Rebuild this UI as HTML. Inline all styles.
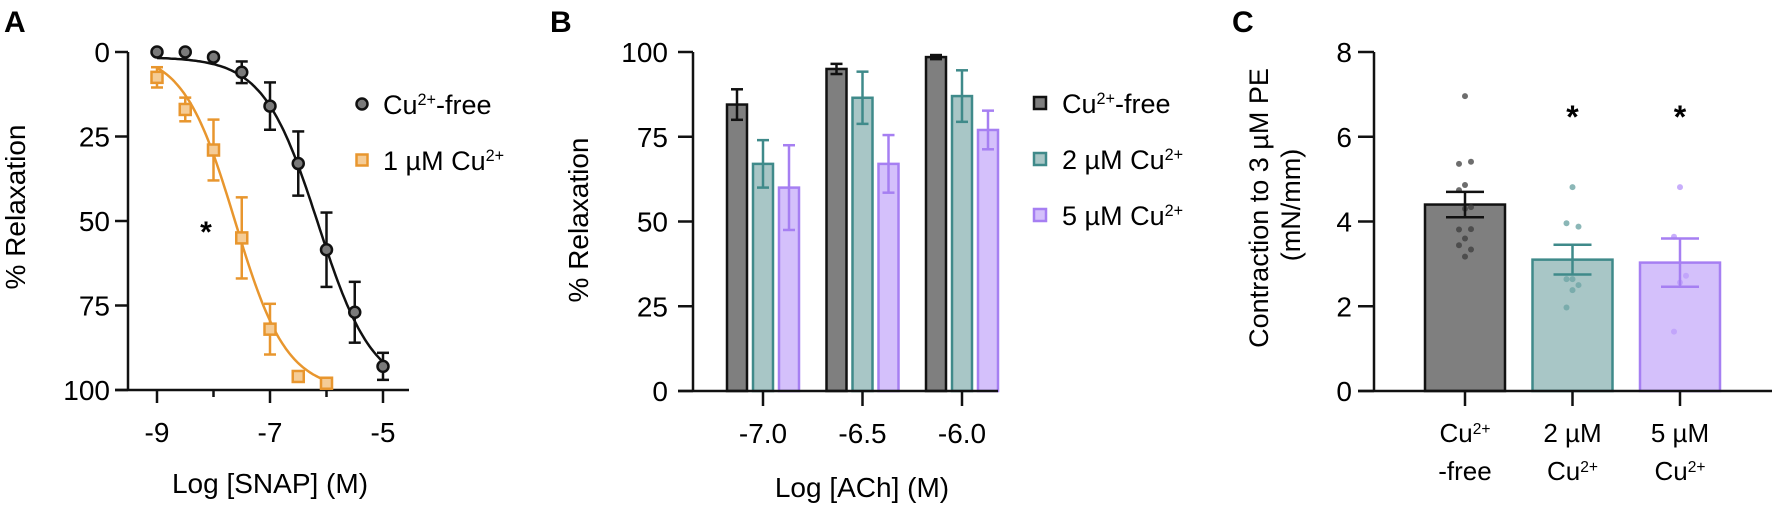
<!DOCTYPE html>
<html><head><meta charset="utf-8"><style>
html,body{margin:0;padding:0;background:#fff}
svg{display:block;font-family:"Liberation Sans",Arial,sans-serif}
</style></head><body>
<svg id="fig" width="1772" height="506" viewBox="0 0 1772 506"></svg>
<script>
// ---------- Panel A data ----------
const aX = [-9,-8.5,-8,-7.5,-7,-6.5,-6,-5.5,-5];
const aFreeY = [0,0,1.5,6,16,33,58.5,77,93];
const aFreeErr = [0,0,0,3.2,7,9.5,11,9,4];
const aCuX = [-9,-8.5,-8,-7.5,-7,-6.5,-6];
const aCuY = [7.5,17,29,55,82,96,98];
const aCuErr = [3,3.5,9,12,7.5,0,0];
const aFreeFit = [1.5,100,-6.15,0.9]; // bottom, top, logIC50, hill
const aCuFit = [0,100,-7.62,0.95];
const aXTicks = [-9,-7,-5];
const aYTicks = [0,25,50,75,100];
// ---------- Panel B data ----------
const bCats = ["-7.0","-6.5","-6.0"];
const bFree = [84.5,95,98.5];
const bFreeErr = [4.5,1.5,0.6];
const bCu2 = [67,86.5,87];
const bCu2Err = [7,7.7,7.6];
const bCu5 = [60,67,77];
const bCu5Err = [12.5,8.5,5.7];
const bYTicks = [0,25,50,75,100];
// ---------- Panel C data ----------
const cCats = [["Cu2+","-free"],["2 µM","Cu2+"],["5 µM","Cu2+"]];
const cMeans = [4.4,3.1,3.03];
const cErr = [0.3,0.35,0.57];
const cPtsFree = [6.96,5.36,5.41,4.86,4.74,4.34,4.3,3.81,3.82,3.6,3.44,3.34,3.17];
const cPtsCu2 = [4.81,3.96,3.88,2.64,2.64,2.5,2.38,1.97];
const cPtsCu5 = [4.81,3.64,2.72,2.56,1.4];
const cYTicks = [0,2,4,6,8];

const NS="http://www.w3.org/2000/svg";
const svg=document.getElementById('fig');
function el(tag,attrs,parent){const e=document.createElementNS(NS,tag);for(const k in attrs)e.setAttribute(k,attrs[k]);(parent||svg).appendChild(e);return e;}
function supText(str,x,y,size,anchor,parent){
  const t=el('text',{x:x,y:y,'font-size':size,'text-anchor':anchor||'start',fill:'#000'},parent);
  const parts=str.split(/(2\+)/);
  parts.forEach(p=>{if(!p)return;const s=el('tspan',{},t);if(p==='2+'){s.setAttribute('baseline-shift','super');s.setAttribute('font-size',size*0.6);s.textContent='2+';}else s.textContent=p;});
  return t;
}
const BLK='#111';
// ================= PANEL A =================
const gA=el('g',{});


const axA={x0:157,x1:383,v0:-9,v1:-5,yTop:52,yBot:390};
const ax=v=>axA.x0+(v-axA.v0)/(axA.v1-axA.v0)*(axA.x1-axA.x0);
const ay=v=>axA.yTop+v/100*(axA.yBot-axA.yTop);
let t=el('text',{x:4,y:32,'font-size':30,'font-weight':'bold'},gA);t.textContent='A';

el('line',{x1:128,y1:axA.yTop,x2:128,y2:axA.yBot+1,stroke:BLK,'stroke-width':2.5},gA);
el('line',{x1:115,y1:axA.yBot,x2:409,y2:axA.yBot,stroke:BLK,'stroke-width':2.5},gA);
aYTicks.forEach(v=>{el('line',{x1:115,y1:ay(v),x2:128,y2:ay(v),stroke:BLK,'stroke-width':2.5},gA);
  const tt=el('text',{x:110,y:ay(v)+10,'font-size':28,'text-anchor':'end'},gA);tt.textContent=v;
  });
aXTicks.forEach(v=>{el('line',{x1:ax(v),y1:axA.yBot,x2:ax(v),y2:axA.yBot+13,stroke:BLK,'stroke-width':2.5},gA);
  const tt=el('text',{x:ax(v),y:442,'font-size':28,'text-anchor':'middle'},gA);tt.textContent=v;
  });
for(let v=-8;v<=-6;v+=2){el('line',{x1:ax(v),y1:axA.yBot,x2:ax(v),y2:axA.yBot+7,stroke:BLK,'stroke-width':2.5},gA);}
t=el('text',{x:0,y:0,'font-size':28,'text-anchor':'middle',transform:'translate(25,207) rotate(-90)'},gA);t.textContent='% Relaxation';

t=el('text',{x:270,y:493,'font-size':28,'text-anchor':'middle'},gA);t.textContent='Log [SNAP] (M)';

function fitPath(p,xa,xb){let d='';for(let i=0;i<=100;i++){const x=xa+(xb-xa)*i/100;const y=p[0]+(p[1]-p[0])/(1+Math.pow(10,p[3]*(p[2]-x)));d+=(i?'L':'M')+ax(x).toFixed(1)+','+ay(y).toFixed(1);}return d;}
const cf=el('path',{d:fitPath(aFreeFit,-9,-5),fill:'none',stroke:BLK,'stroke-width':2.5},gA);

const cc=el('path',{d:fitPath(aCuFit,-9,-6),fill:'none',stroke:'#e8962e','stroke-width':2.5},gA);

function errBar(g,x,y1,y2,w,col,sw){el('line',{x1:x,y1:y1,x2:x,y2:y2,stroke:col,'stroke-width':sw||2.5},g);el('line',{x1:x-w,y1:y1,x2:x+w,y2:y1,stroke:col,'stroke-width':sw||2.5},g);el('line',{x1:x-w,y1:y2,x2:x+w,y2:y2,stroke:col,'stroke-width':sw||2.5},g);}
aCuX.forEach((x,i)=>{
  if(aCuErr[i]>0)errBar(gA,ax(x),ay(aCuY[i]-aCuErr[i]),ay(aCuY[i]+aCuErr[i]),6,'#e8962e');
  const r=el('rect',{x:ax(x)-5.5,y:ay(aCuY[i])-5.5,width:11,height:11,fill:'#f5cc96',stroke:'#e8962e','stroke-width':2.5},gA);
  });
aX.forEach((x,i)=>{
  if(aFreeErr[i]>0)errBar(gA,ax(x),ay(aFreeY[i]-aFreeErr[i]),ay(aFreeY[i]+aFreeErr[i]),6,BLK);
  const c=el('circle',{cx:ax(x),cy:ay(aFreeY[i]),r:5.5,fill:'#7a7a7a',stroke:BLK,'stroke-width':2.5},gA);
  });
t=el('text',{x:206,y:242,'font-size':30,'font-weight':'bold','text-anchor':'middle'},gA);t.textContent='*';

el('circle',{cx:362,cy:104,r:5.5,fill:'#7a7a7a',stroke:BLK,'stroke-width':2.5},gA);
supText('Cu2+-free',383,114,27,'start',gA);
el('rect',{x:356.5,y:154.5,width:11,height:11,fill:'#f5cc96',stroke:'#e8962e','stroke-width':2.5},gA);
supText('1 µM Cu2+',383,170,27,'start',gA);

// ================= PANEL B =================
const gB=el('g',{});


const byT=52,byB=391;
const by=v=>byB-v/100*(byB-byT);
const bx=i=>763+i*99.5;
t=el('text',{x:550,y:32,'font-size':30,'font-weight':'bold'},gB);t.textContent='B';

el('line',{x1:693,y1:byT,x2:693,y2:byB,stroke:BLK,'stroke-width':2.5},gB);
bYTicks.forEach(v=>{el('line',{x1:678,y1:by(v),x2:693,y2:by(v),stroke:BLK,'stroke-width':2.5},gB);
  const tt=el('text',{x:668,y:by(v)+10,'font-size':28,'text-anchor':'end'},gB);tt.textContent=v;
  });
t=el('text',{x:0,y:0,'font-size':28,'text-anchor':'middle',transform:'translate(588,220) rotate(-90)'},gB);t.textContent='% Relaxation';

const bSeries=[[bFree,bFreeErr,'#7f7f7f',BLK,-26,'cu-free'],[bCu2,bCu2Err,'#a8c6c6','#3f8a8a',0,'cu-2um'],[bCu5,bCu5Err,'#d4c0fb','#a67ff2',26,'cu-5um']];
bSeries.forEach(s=>{
  s[0].forEach((v,i)=>{
    const cx=bx(i)+s[4];
    const r=el('rect',{x:cx-10,y:by(v),width:20,height:byB-by(v),fill:s[2],stroke:s[3],'stroke-width':2.5},gB);
    
    errBar(gB,cx,by(v+s[1][i]),by(v-s[1][i]),6,s[3]);
  });});
el('line',{x1:678,y1:byB,x2:998,y2:byB,stroke:BLK,'stroke-width':2.5},gB);
bCats.forEach((c,i)=>{el('line',{x1:bx(i),y1:byB,x2:bx(i),y2:byB+15,stroke:BLK,'stroke-width':2.5},gB);
  const tt=el('text',{x:bx(i),y:443,'font-size':28,'text-anchor':'middle'},gB);tt.textContent=c;
  });
t=el('text',{x:862,y:497,'font-size':28,'text-anchor':'middle'},gB);t.textContent='Log [ACh] (M)';

const legB=[['Cu2+-free','#7f7f7f',BLK,103],['2 µM Cu2+','#a8c6c6','#3f8a8a',159],['5 µM Cu2+','#d4c0fb','#a67ff2',215]];
legB.forEach(l=>{el('rect',{x:1034,y:l[3]-6,width:12,height:12,fill:l[1],stroke:l[2],'stroke-width':2.5},gB);
  supText(l[0],1062,l[3]+10,27,'start',gB);});

// ================= PANEL C =================
const gC=el('g',{});


const cyT=52,cyB=391;
const cy=v=>cyB-v/8*(cyB-cyT);
const cxp=i=>1465+i*107.5;
t=el('text',{x:1232,y:32,'font-size':30,'font-weight':'bold'},gC);t.textContent='C';

el('line',{x1:1374,y1:cyT,x2:1374,y2:cyB,stroke:BLK,'stroke-width':2.5},gC);
cYTicks.forEach(v=>{el('line',{x1:1358,y1:cy(v),x2:1374,y2:cy(v),stroke:BLK,'stroke-width':2.5},gC);
  const tt=el('text',{x:1352,y:cy(v)+10,'font-size':28,'text-anchor':'end'},gC);tt.textContent=v;
  });
t=el('text',{x:0,y:0,'font-size':27,'text-anchor':'middle',transform:'translate(1268,208) rotate(-90)'},gC);t.textContent='Contraction to 3 µM PE';

t=el('text',{x:0,y:0,'font-size':27,'text-anchor':'middle',transform:'translate(1300,205) rotate(-90)'},gC);t.textContent='(mN/mm)';

const cStyle=[['#7f7f7f',BLK,'rgba(60,60,60,0.75)','cu-free',cPtsFree],['#a8c6c6','#3f8a8a','rgba(110,165,165,0.8)','cu-2um',cPtsCu2],['#d4c0fb','#a67ff2','rgba(190,160,250,0.85)','cu-5um',cPtsCu5]];
cMeans.forEach((m,i)=>{
  const s=cStyle[i];
  const r=el('rect',{x:cxp(i)-40,y:cy(m),width:80,height:cyB-cy(m),fill:s[0],stroke:s[1],'stroke-width':2.5},gC);
  
  s[4].forEach((p,j)=>{const off=(j%3===0)?0:((j%3===1)?-6:6);
    const d=el('circle',{cx:cxp(i)+off,cy:cy(p),r:3,fill:s[2]},gC);
    });
  el('line',{x1:cxp(i),y1:cy(m+cErr[i]),x2:cxp(i),y2:cy(m-cErr[i]),stroke:s[1],'stroke-width':2.5},gC);
  el('line',{x1:cxp(i)-19,y1:cy(m+cErr[i]),x2:cxp(i)+19,y2:cy(m+cErr[i]),stroke:s[1],'stroke-width':2.5},gC);
  el('line',{x1:cxp(i)-19,y1:cy(m-cErr[i]),x2:cxp(i)+19,y2:cy(m-cErr[i]),stroke:s[1],'stroke-width':2.5},gC);
  el('line',{x1:cxp(i),y1:cyB,x2:cxp(i),y2:cyB+15,stroke:BLK,'stroke-width':2.5},gC);
  supText(cCats[i][0],cxp(i),442,26,'middle',gC);
  supText(cCats[i][1],cxp(i),480,26,'middle',gC);
  if(i>0){const st=el('text',{x:cxp(i),y:128,'font-size':32,'font-weight':'bold','text-anchor':'middle'},gC);st.textContent='*';
    }
});
el('line',{x1:1358,y1:cyB,x2:1772,y2:cyB,stroke:BLK,'stroke-width':2.5},gC);
</script>
</body></html>
